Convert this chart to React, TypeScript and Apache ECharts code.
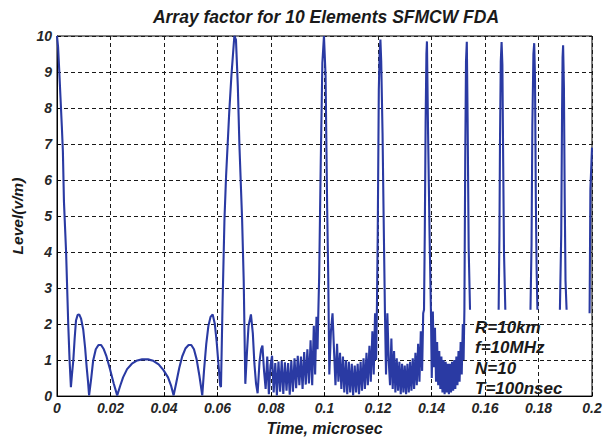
import React, { useEffect, useRef } from "react";
import * as echarts from "echarts";

// ---- data (time in microsec, level in v/m) ----
const xTicks = [0, 0.02, 0.04, 0.06, 0.08, 0.1, 0.12, 0.14, 0.16, 0.18, 0.2];
const yTicks = [0, 1, 2, 3, 4, 5, 6, 7, 8, 9, 10];

const mainLobeStart: [number, number][] = [
  [0, 10], [0.0004, 9.7], [0.0008, 9.1], [0.0013, 8.3], [0.0018, 7.5], [0.0022, 6.8],
  [0.0026, 5.4], [0.003, 4.7], [0.0034, 4.0], [0.0038, 3.0], [0.0042, 2.0], [0.0047, 1.0], [0.0052, 0.25],
];

const earlySidelobes: [number, number][] = [
  [0.0056, 0.6], [0.0061, 1.0], [0.0066, 1.6], [0.0071, 2.1], [0.0077, 2.25], [0.0083, 2.27],
  [0.009, 2.15], [0.0098, 1.85], [0.0105, 1.35], [0.0111, 0.8], [0.0116, 0.4], [0.012, 0.02],
  [0.0128, 0.5], [0.0135, 0.98], [0.0145, 1.3], [0.0155, 1.42], [0.0165, 1.42], [0.0175, 1.3],
  [0.0185, 1.1], [0.0198, 0.75], [0.0212, 0.35], [0.0225, 0.02],
  [0.0236, 0.28], [0.0247, 0.52], [0.0262, 0.75], [0.028, 0.9], [0.03, 0.99], [0.0318, 1.02],
  [0.034, 1.02], [0.036, 0.98], [0.038, 0.88], [0.0398, 0.72], [0.0415, 0.52], [0.0426, 0.3], [0.0436, 0.02],
  [0.0446, 0.38], [0.0457, 0.78], [0.0468, 1.1], [0.048, 1.32], [0.0492, 1.42], [0.0502, 1.42],
  [0.0512, 1.3], [0.0522, 1.02], [0.0532, 0.58], [0.0543, 0.02],
  [0.055, 0.75], [0.0558, 1.45], [0.0566, 1.95], [0.0574, 2.2], [0.0582, 2.27], [0.059, 2.0],
  [0.0597, 1.5], [0.0604, 0.85], [0.061, 0.3],
];

const secondLobe: [number, number][] = [
  [0.0613, 0.25], [0.0619, 2.6], [0.0626, 4.9], [0.0632, 6.1], [0.0644, 7.9], [0.0652, 8.9],
  [0.0657, 9.4], [0.0663, 10], [0.0669, 9.9], [0.0676, 8.6], [0.0682, 6.95], [0.0692, 4.9],
  [0.0698, 3.2], [0.0704, 0.34],
];

const sidelobesB: [number, number][] = [
  [0.071, 1.2], [0.0716, 1.95], [0.0725, 2.27], [0.0732, 1.75], [0.0738, 0.9], [0.0744, 0.35],
  [0.075, 0.08], [0.0757, 0.95], [0.0763, 1.3], [0.0768, 1.4], [0.0774, 0.7], [0.078, 0.2],
  [0.0786, 1.1], [0.0792, 0.05], [0.0798, 0.85], [0.0804, 1.12], [0.081, 0.1], [0.0816, 0.92],
  [0.0822, 0.02], [0.0828, 0.96], [0.0834, 0.12], [0.084, 0.98], [0.0846, 0.06], [0.0852, 0.94],
  [0.0858, 0.15], [0.0864, 0.92], [0.087, 0.04], [0.0876, 0.98], [0.0882, 0.12], [0.0888, 1.05],
  [0.0894, 0.22], [0.09, 1.12], [0.0906, 0.3], [0.0912, 1.1], [0.0918, 0.2], [0.0924, 1.22],
  [0.093, 0.32], [0.0936, 1.3], [0.0942, 0.35], [0.0948, 1.55], [0.0954, 0.3], [0.096, 1.95],
  [0.0965, 0.6], [0.097, 2.2], [0.0974, 1.3],
];

const thirdLobe: [number, number][] = [
  [0.0977, 2.35], [0.098, 3.3], [0.0986, 6.5], [0.0992, 9.25], [0.0998, 10], [0.1004, 8.9],
  [0.101, 5.2], [0.1014, 3.3], [0.1018, 0.6],
];

const sidelobesC: [number, number][] = [
  [0.1024, 1.8], [0.103, 2.3], [0.1036, 1.2], [0.1041, 0.3], [0.1047, 1.45], [0.1052, 0.4],
  [0.1058, 1.2], [0.1063, 0.2], [0.1069, 1.1], [0.1074, 0.1], [0.108, 1.0], [0.1085, 0.05],
  [0.1091, 0.95], [0.1096, 0.1], [0.1102, 0.9], [0.1107, 0.02], [0.1113, 0.85], [0.1118, 0.1],
  [0.1124, 0.9], [0.1129, 0.05], [0.1135, 0.95], [0.114, 0.15], [0.1146, 1.05], [0.1151, 0.2],
  [0.1157, 1.2], [0.1162, 0.3], [0.1168, 1.4], [0.1173, 0.4], [0.1179, 1.8], [0.1184, 0.6],
  [0.1189, 2.3], [0.1193, 1.0],
];

const fourthLobe: [number, number][] = [
  [0.1196, 2.5], [0.1199, 4.5], [0.1203, 8.5], [0.1206, 9.5], [0.1209, 9.9], [0.1212, 9.3],
  [0.1217, 7.3], [0.1221, 5.0], [0.1226, 2.3],
];

const sidelobesD: [number, number][] = [
  [0.123, 0.6], [0.1235, 2.3], [0.124, 1.0], [0.1245, 0.3], [0.125, 1.6], [0.1255, 0.2],
  [0.126, 1.25], [0.1265, 0.1], [0.127, 1.05], [0.1275, 0.15], [0.128, 0.95], [0.1285, 0.05],
  [0.129, 0.9], [0.1295, 0.1], [0.13, 0.85], [0.1305, 0.05], [0.131, 0.9], [0.1315, 0.1],
  [0.132, 0.95], [0.1325, 0.15], [0.133, 1.05], [0.1335, 0.2], [0.134, 1.2], [0.1345, 0.3],
  [0.135, 1.45], [0.1355, 0.4], [0.136, 1.8], [0.1365, 0.7], [0.1369, 2.3],
];

const fifthLobe: [number, number][] = [
  [0.1372, 2.4], [0.1375, 4.6], [0.1378, 7.6], [0.1381, 9.5], [0.1383, 9.85], [0.1387, 7.4],
  [0.1393, 4.4], [0.1398, 2.3],
];

const sidelobesE: [number, number][] = [
  [0.1401, 0.5], [0.1405, 2.35], [0.1409, 0.8], [0.1413, 1.9], [0.1417, 0.4], [0.1421, 1.5],
  [0.1425, 0.3], [0.1429, 1.25], [0.1433, 0.2], [0.1437, 1.1], [0.1441, 0.1], [0.1445, 1.0],
  [0.1449, 0.05], [0.1453, 0.95], [0.1457, 0.1], [0.1461, 0.9], [0.1465, 0.05], [0.1469, 0.9],
  [0.1473, 0.1], [0.1477, 0.95], [0.1481, 0.15], [0.1485, 1.0], [0.1489, 0.2], [0.1493, 1.1],
  [0.1497, 0.3], [0.1501, 1.25], [0.1505, 0.4], [0.1509, 1.5], [0.1513, 0.6], [0.1517, 2.0],
  [0.152, 1.0],
];

const sixthLobe: [number, number][] = [
  [0.1523, 2.4], [0.1526, 6.5], [0.1529, 9.3], [0.1532, 9.84], [0.1535, 7.7], [0.1539, 4.1], [0.1544, 2.4],
];

const spike0166: [number, number][] = [
  [0.1651, 2.4], [0.1654, 4.5], [0.1656, 7.0], [0.1659, 9.3], [0.1662, 9.83], [0.1665, 9.2],
  [0.1668, 6.5], [0.1671, 4.0], [0.1676, 2.4],
];
const spike0178: [number, number][] = [
  [0.177, 2.4], [0.1774, 4.2], [0.1777, 7.5], [0.1781, 9.5], [0.1784, 9.8], [0.1787, 8.8],
  [0.179, 5.5], [0.1793, 3.5], [0.1796, 2.4],
];
const spike0189: [number, number][] = [
  [0.188, 2.4], [0.1885, 4.5], [0.1888, 7.8], [0.189, 9.4], [0.1892, 9.74], [0.1895, 8.6],
  [0.1898, 5.5], [0.1901, 3.2], [0.1905, 2.4],
];
const edgeRise: [number, number][] = [[0.1991, 2.3], [0.1994, 5.75], [0.1998, 6.5], [0.2, 6.9]];

const annotationLines = ["R=10km", "f=10MHz", "N=10", "T=100nsec"];
const titleText = "Array factor for 10 Elements SFMCW FDA";
const xName = "Time, microsec";
const yName = "Level(v/m)";

const FONT = "'Liberation Sans', Arial, sans-serif";
const LINE = "#2a3aa3";

export default function App() {
  const ref = useRef<HTMLDivElement>(null);
  useEffect(() => {
    if (!ref.current) return;
    const chart = echarts.init(ref.current, undefined, { renderer: "svg" });
    const continuous = [
      ...mainLobeStart, ...earlySidelobes, ...secondLobe, ...sidelobesB, ...thirdLobe,
      ...sidelobesC, ...fourthLobe, ...sidelobesD, ...fifthLobe, ...sidelobesE, ...sixthLobe,
    ];
    const pieces = [continuous, spike0166, spike0178, spike0189, edgeRise];
    const labelStyle = {
      fontFamily: FONT, fontWeight: "bold" as const, fontStyle: "italic" as const,
      fontSize: 14, color: "#262626",
    };
    chart.setOption({
      animation: false,
      backgroundColor: "#ffffff",
      grid: {
        left: 57, right: 21, top: 36, bottom: 42, show: true,
        borderColor: "#000", borderWidth: 1, backgroundColor: "#fff", containLabel: false,
      },
      xAxis: {
        type: "value", min: 0, max: 0.2, interval: 0.02,
        name: xName, nameLocation: "middle", nameGap: 21,
        nameTextStyle: { ...labelStyle, fontSize: 16, color: "#1a1a1a" },
        axisLine: { show: true, lineStyle: { color: "#000" } },
        axisTick: { show: true, inside: true, length: 4, lineStyle: { color: "#000" } },
        axisLabel: {
          ...labelStyle, margin: 5,
          formatter: (v: number) => {
            const r = Math.round(v * 100) / 100;
            return xTicks.some((t) => Math.abs(t - r) < 1e-9) ? String(r) : "";
          },
        },
        splitLine: { show: true, lineStyle: { color: "#1a1a1a", type: [4, 3], width: 1 } },
      },
      yAxis: {
        type: "value", min: 0, max: 10, interval: 1,
        name: yName, nameLocation: "middle", nameGap: 28, nameRotate: 90,
        nameTextStyle: { ...labelStyle, fontSize: 15.5, color: "#1a1a1a" },
        axisLine: { show: true, lineStyle: { color: "#000" } },
        axisTick: { show: true, inside: true, length: 4, lineStyle: { color: "#000" } },
        axisLabel: {
          ...labelStyle, margin: 5,
          formatter: (v: number) => (yTicks.includes(Math.round(v)) ? String(Math.round(v)) : ""),
        },
        splitLine: { show: true, lineStyle: { color: "#1a1a1a", type: [4, 3], width: 1 } },
      },
      graphic: [
        {
          type: "text", x: 326, y: 8,
          style: {
            text: titleText, fontFamily: FONT, fontWeight: "bold", fontStyle: "italic",
            fontSize: 17.5, fill: "#1a1a1a", textAlign: "center",
          },
        },
        {
          type: "text", x: 475, y: 317, z: 10,
          style: {
            text: annotationLines.join("\n"), fontFamily: FONT, fontWeight: "bold",
            fontStyle: "italic", fontSize: 17, lineHeight: 20.5, fill: "#1a1a1a",
          },
        },
      ],
      series: pieces.map((d) => ({
        type: "line", data: d, showSymbol: false, symbol: "none", clip: true,
        lineStyle: { color: LINE, width: 2.1 }, silent: true,
      })),
    });
    return () => chart.dispose();
  }, []);
  return (
    <div
      ref={ref}
      style={{ position: "fixed", left: 0, top: 0, width: 613, height: 441, background: "#fff" }}
    />
  );
}
